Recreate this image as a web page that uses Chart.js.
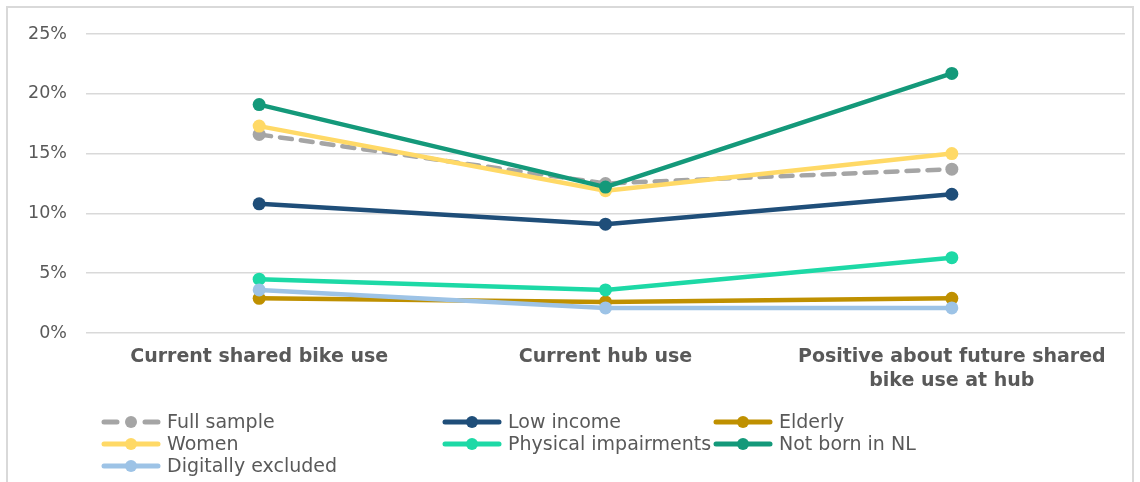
<!DOCTYPE html>
<html>
<head>
<meta charset="utf-8">
<script src="https://cdn.jsdelivr.net/npm/chart.js@4.4.1/dist/chart.umd.min.js"></script>
<style>
  html, body { margin: 0; padding: 0; background: #ffffff; overflow: hidden; }
  #frame {
    position: absolute; left: 6px; top: 6px; width: 1128px; height: 520px;
    border: 2px solid #D9D9D9; box-sizing: border-box;
  }
  #chart { position: absolute; left: 0; top: 0; }
</style>
</head>
<body>
<div id="frame"></div>
<canvas id="chart" width="1140" height="482"></canvas>
<script>
// Survey categories (x axis)
const categories = [
  'Current shared bike use',
  'Current hub use',
  ['Positive about future shared', 'bike use at hub']
];

// Share of respondents per group, in percent
const fullSample          = [16.6, 12.5, 13.7];
const lowIncome           = [10.8, 9.1, 11.6];
const elderly             = [2.9, 2.6, 2.9];
const women               = [17.3, 11.9, 15.0];
const physicalImpairments = [4.5, 3.6, 6.3];
const notBornInNL         = [19.1, 12.2, 21.7];
const digitallyExcluded   = [3.6, 2.1, 2.1];

// Y axis ticks
const yTicks = [0, 5, 10, 15, 20, 25];

const TEXT = '#595959';
Chart.defaults.font.family = "'DejaVu Sans', Verdana, sans-serif";
Chart.defaults.color = TEXT;

function series(label, data, color, dashed) {
  return {
    label, data,
    borderColor: color,
    backgroundColor: color,
    pointBackgroundColor: color,
    pointBorderWidth: 0,
    pointRadius: 6.5,
    pointHoverRadius: 6.5,
    borderWidth: 4.5,
    borderCapStyle: 'round',
    borderJoinStyle: 'round',
    borderDash: dashed ? [12, 9] : [],
    tension: 0,
    fill: false
  };
}

const datasets = [
  series('Full sample', fullSample, '#A5A5A5', true),
  series('Low income', lowIncome, '#1F4E79', false),
  series('Elderly', elderly, '#BF9000', false),
  series('Women', women, '#FFD966', false),
  series('Physical impairments', physicalImpairments, '#1DD9A6', false),
  series('Not born in NL', notBornInNL, '#14997A', false),
  series('Digitally excluded', digitallyExcluded, '#9DC3E6', false)
];
// later series are painted over earlier ones
datasets.forEach((d, i) => { d.order = datasets.length - i; });

// Three-column legend below the plot
const gridLegend = {
  id: 'gridLegend',
  afterDraw(chart) {
    const ctx = chart.ctx;
    const textX = [167, 508, 779];
    const rowY = [422, 444, 466];
    const symLen = 58, gap = 7;
    ctx.save();
    ctx.font = "19px 'DejaVu Sans', Verdana, sans-serif";
    ctx.textBaseline = 'middle';
    ctx.textAlign = 'left';
    chart.data.datasets.forEach((ds, i) => {
      const col = i % 3, row = Math.floor(i / 3);
      const x1 = textX[col] - gap, x0 = x1 - symLen, y = rowY[row];
      const cx = (x0 + x1) / 2;
      ctx.strokeStyle = ds.borderColor;
      ctx.lineWidth = 5;
      ctx.lineCap = 'round';
      if (ds.borderDash.length) {
        ctx.beginPath();
        ctx.moveTo(x0 + 2, y); ctx.lineTo(cx - 14, y);
        ctx.moveTo(cx + 14, y); ctx.lineTo(x1 - 2, y);
        ctx.stroke();
      } else {
        ctx.beginPath();
        ctx.moveTo(x0 + 2, y); ctx.lineTo(x1 - 2, y);
        ctx.stroke();
      }
      ctx.fillStyle = ds.borderColor;
      ctx.beginPath();
      ctx.arc(cx, y, 6, 0, Math.PI * 2);
      ctx.fill();
      ctx.fillStyle = TEXT;
      ctx.fillText(ds.label, textX[col], y + 1);
    });
    ctx.restore();
  }
};

new Chart(document.getElementById('chart'), {
  type: 'line',
  data: { labels: categories, datasets },
  options: {
    responsive: false,
    animation: false,
    events: [],
    layout: { padding: { top: 34, right: 15, left: 0, bottom: 0 } },
    plugins: {
      legend: { display: false },
      tooltip: { enabled: false }
    },
    scales: {
      x: {
        offset: true,
        grid: { display: false, drawTicks: false },
        border: { display: false },
        ticks: {
          padding: 12,
          maxRotation: 0,
          autoSkip: false,
          color: TEXT,
          font: { size: 19, weight: 'bold', lineHeight: 1.25 }
        },
        afterFit(scale) { scale.height = 149; }
      },
      y: {
        min: yTicks[0],
        max: yTicks[yTicks.length - 1],
        afterBuildTicks(scale) { scale.ticks = yTicks.map(v => ({ value: v })); },
        grid: { color: '#D9D9D9', lineWidth: 1.5, drawTicks: false },
        border: { display: false },
        ticks: {
          padding: 19,
          color: TEXT,
          font: { size: 17.5 },
          callback: v => v + '%'
        },
        afterFit(scale) { scale.width = 86; }
      }
    }
  },
  plugins: [gridLegend]
});
</script>
</body>
</html>
